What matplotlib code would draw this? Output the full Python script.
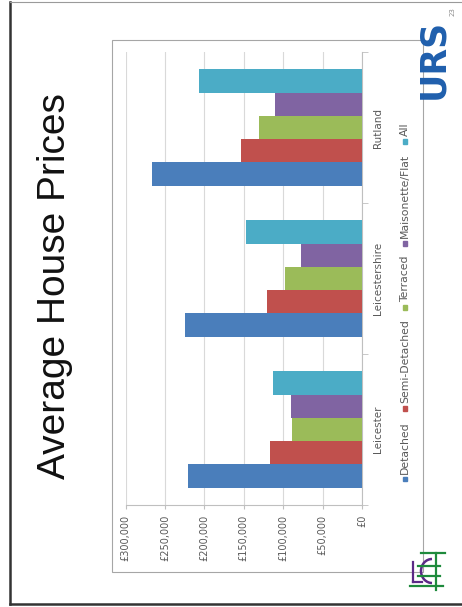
import matplotlib.pyplot as plt
from matplotlib.patches import Rectangle, Arc
from matplotlib.lines import Line2D
import numpy as np

# average prices by area and house type
regions = ['Leicester', 'Leicestershire', 'Rutland']
house_types = ['Detached', 'Semi-Detached', 'Terraced', 'Maisonette/Flat', 'All']
detached = [221000, 225000, 266000]
semi_detached = [117000, 121000, 153000]
terraced = [88500, 98000, 131000]
maisonette_flat = [90500, 77000, 110000]
all_types = [113000, 147000, 207000]
price_ticks = [0, 50000, 100000, 150000, 200000, 250000, 300000]

colours = ['#4A7EBB', '#C0504D', '#9BBB59', '#8064A2', '#4BACC6']
series = [detached, semi_detached, terraced, maisonette_flat, all_types]

W, H = 462, 607
fig = plt.figure(figsize=(W / 100, H / 100), dpi=100)
fig.patch.set_facecolor('white')


def fx(x):
    return x / W


def fy(y):
    return 1 - y / H


# slide frame
fig.add_artist(Line2D([fx(9.5), fx(9.5)], [fy(2), fy(604)], color='#333333', lw=1.8))
fig.add_artist(Line2D([fx(9.5), fx(462)], [fy(604), fy(604)], color='#333333', lw=1.8))
fig.add_artist(Line2D([fx(9.5), fx(462)], [fy(1.5), fy(1.5)], color='#9a9a9a', lw=0.8))

# chart area border
fig.add_artist(Rectangle((fx(112), fy(572)), fx(423) - fx(112), fy(40) - fy(572),
                         transform=fig.transFigure, fill=False, ec='#a6a6a6', lw=0.8))

ax = fig.add_axes([fx(125.7), fy(505), fx(362) - fx(125.7), fy(52) - fy(505)])

y = np.arange(len(regions))
bh = 0.154
for i, (name, vals) in enumerate(zip(house_types, series)):
    ax.barh(y + (i - 2) * bh, vals, height=bh, color=colours[i], zorder=3)

ax.set_xlim(300000, 0)
ax.set_ylim(-0.5, 2.5)
ax.set_xticks(price_ticks)
ax.set_xticklabels(['£{:,}'.format(v) if v else '£0' for v in price_ticks], rotation=90)
ax.grid(axis='x', color='#d9d9d9', lw=0.8, zorder=0)
ax.tick_params(axis='x', length=3, color='#bfbfbf', labelsize=7, labelcolor='#595959', pad=4)

ax.yaxis.tick_right()
ax.set_yticks(y)
ax.set_yticklabels(regions, rotation=90, va='center')
ax.set_yticks([-0.5, 0.5, 1.5, 2.5], minor=True)
ax.tick_params(axis='y', which='major', length=0, labelsize=7.5, labelcolor='#595959', pad=8)
ax.tick_params(axis='y', which='minor', length=4, color='#bfbfbf')

for side in ['top', 'left']:
    ax.spines[side].set_visible(False)
for side in ['bottom', 'right']:
    ax.spines[side].set_color('#bfbfbf')
    ax.spines[side].set_linewidth(0.8)

# legend, drawn sideways
renderer = fig.canvas.get_renderer()
legend_x = 405
texts = []
for name in house_types:
    t = fig.text(fx(legend_x), 0, name, rotation=90, fontsize=7.8, color='#595959',
                 ha='center', va='bottom')
    texts.append(t)
lengths = [t.get_window_extent(renderer).height for t in texts]
sq, gap_in, gap_out = 4.5, 3, 10
total = sum(sq + gap_in + L for L in lengths) + gap_out * (len(texts) - 1)
pos = 302 + total / 2
for t, L, c in zip(texts, lengths, colours):
    fig.add_artist(Rectangle((fx(legend_x - sq / 2), fy(pos)), sq / W, sq / H,
                             transform=fig.transFigure, color=c))
    t.set_y(fy(pos - sq - gap_in))
    pos -= sq + gap_in + L + gap_out

# title
fig.text(fx(55), fy(286.5), 'Average House Prices', rotation=90, fontsize=28,
         family='Liberation Sans', ha='center', va='center', color='#111111')

# logos and page number
fig.text(fx(433), fy(59), 'URS', rotation=90, fontsize=25, fontweight='bold',
         color='#1f5fad', ha='center', va='center')
fig.text(fx(453), fy(12), '23', rotation=90, fontsize=5, color='#8c8c8c',
         ha='center', va='center')

green, purple = '#1e8a3c', '#5b2a86'
for (x0, y0), (x1, y1), c in [((410, 586), (443, 586), green),
                              ((421, 553), (445, 553), green),
                              ((436, 553), (436, 590), green),
                              ((418, 566), (440, 566), green),
                              ((418, 576), (440, 576), green),
                              ((413, 562), (413, 582), purple),
                              ((413, 582), (422, 582), purple)]:
    fig.add_artist(Line2D([fx(x0), fx(x1)], [fy(y0), fy(y1)], color=c, lw=1.6))
fig.add_artist(Arc((fx(432), fy(571)), 22 / W, 24 / H, theta1=90, theta2=270,
                   transform=fig.transFigure, color=purple, lw=1.8))

fig.savefig('out.png', dpi=100)
